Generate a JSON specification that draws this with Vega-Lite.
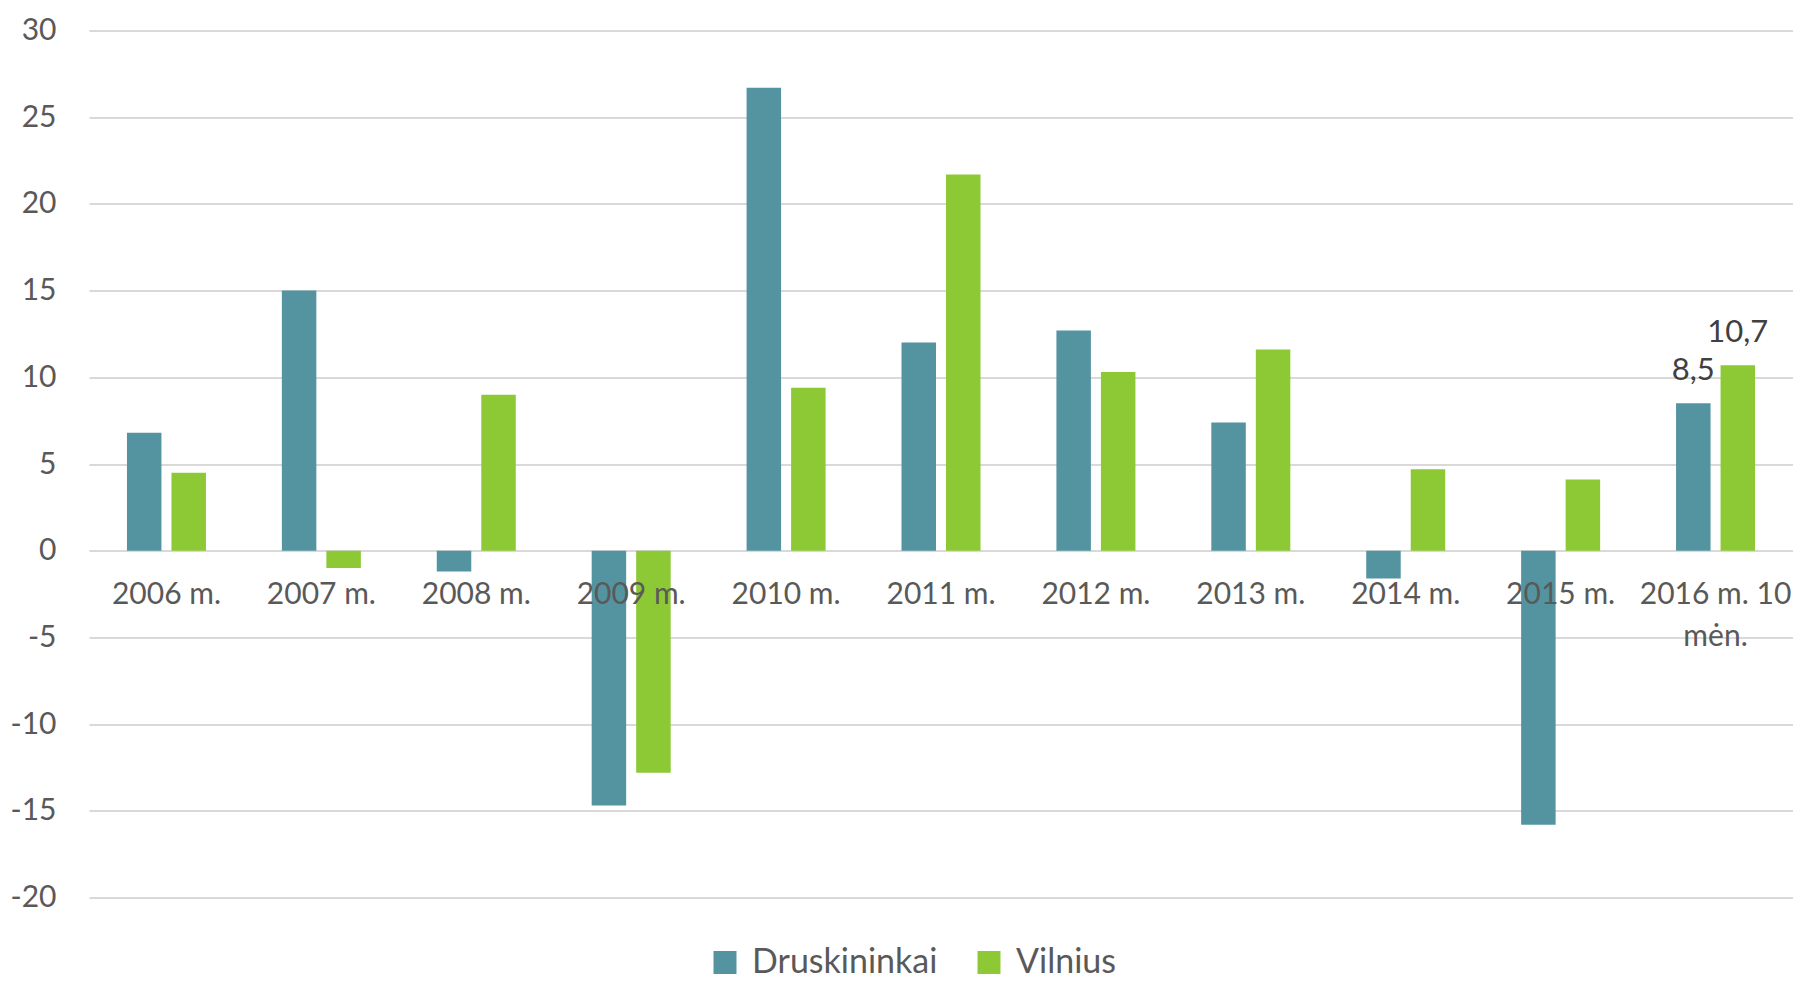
{
  "$schema": "https://vega.github.io/schema/vega-lite/v6.json",
  "width": 1704,
  "height": 867,
  "autosize": {"type": "none"},
  "padding": {"left": 89, "top": 30.5, "right": 0, "bottom": 83.5},
  "background": "white",
  "config": {
    "view": {"stroke": null},
    "font": "Lato",
    "locale": {
      "number": {"decimal": ",", "thousands": " ", "grouping": [3], "currency": ["", " €"], "minus": "-"}
    }
  },
  "data": {
    "values": [
      {"year": "2006 m.", "city": "Druskininkai", "value": 6.8},
      {"year": "2006 m.", "city": "Vilnius", "value": 4.5},
      {"year": "2007 m.", "city": "Druskininkai", "value": 15.0},
      {"year": "2007 m.", "city": "Vilnius", "value": -1.0},
      {"year": "2008 m.", "city": "Druskininkai", "value": -1.2},
      {"year": "2008 m.", "city": "Vilnius", "value": 9.0},
      {"year": "2009 m.", "city": "Druskininkai", "value": -14.7},
      {"year": "2009 m.", "city": "Vilnius", "value": -12.8},
      {"year": "2010 m.", "city": "Druskininkai", "value": 26.7},
      {"year": "2010 m.", "city": "Vilnius", "value": 9.4},
      {"year": "2011 m.", "city": "Druskininkai", "value": 12.0},
      {"year": "2011 m.", "city": "Vilnius", "value": 21.7},
      {"year": "2012 m.", "city": "Druskininkai", "value": 12.7},
      {"year": "2012 m.", "city": "Vilnius", "value": 10.3},
      {"year": "2013 m.", "city": "Druskininkai", "value": 7.4},
      {"year": "2013 m.", "city": "Vilnius", "value": 11.6},
      {"year": "2014 m.", "city": "Druskininkai", "value": -1.6},
      {"year": "2014 m.", "city": "Vilnius", "value": 4.7},
      {"year": "2015 m.", "city": "Druskininkai", "value": -15.8},
      {"year": "2015 m.", "city": "Vilnius", "value": 4.1},
      {"year": "2016 m. 10 mėn.", "city": "Druskininkai", "value": 8.5},
      {"year": "2016 m. 10 mėn.", "city": "Vilnius", "value": 10.7}
    ]
  },
  "encoding": {
    "x": {
      "field": "year",
      "type": "nominal",
      "sort": null,
      "scale": {"paddingInner": 0.49, "paddingOuter": 0.245},
      "axis": {
        "title": null,
        "orient": "bottom",
        "offset": -346.8,
        "domain": false,
        "ticks": false,
        "grid": false,
        "labelAngle": 0,
        "labelFont": "Lato",
        "labelFontSize": 30,
        "labelColor": "#595959",
        "labelPadding": 29,
        "labelBaseline": "top",
        "labelLineHeight": 42,
        "labelOverlap": false,
        "labelLimit": 0,
        "labelExpr": "datum.value == '2016 m. 10 mėn.' ? ['2016 m. 10', 'mėn.'] : datum.value",
        "zindex": 1
      }
    },
    "xOffset": {
      "field": "city",
      "type": "nominal",
      "sort": ["Druskininkai", "Vilnius"],
      "scale": {"paddingInner": 0.225, "paddingOuter": 0}
    },
    "y": {
      "field": "value",
      "type": "quantitative",
      "scale": {"domain": [-20, 30], "nice": false, "zero": false},
      "axis": {
        "title": null,
        "values": [-20, -15, -10, -5, 0, 5, 10, 15, 20, 25, 30],
        "format": "d",
        "domain": false,
        "ticks": false,
        "grid": true,
        "gridColor": "#d9d9d9",
        "gridWidth": 2,
        "labelFont": "Lato",
        "labelFontSize": 30,
        "labelColor": "#595959",
        "labelPadding": 33,
        "zindex": 0
      }
    }
  },
  "layer": [
    {
      "mark": {"type": "bar"},
      "encoding": {
        "color": {
          "field": "city",
          "type": "nominal",
          "scale": {"domain": ["Druskininkai", "Vilnius"], "range": ["#5494A0", "#8CC935"]},
          "legend": {
            "title": null,
            "orient": "none",
            "legendX": 619,
            "legendY": 915,
            "direction": "horizontal",
            "symbolType": "square",
            "symbolSize": 529,
            "symbolStrokeWidth": 0,
            "labelFont": "Lato",
            "labelFontSize": 34,
            "labelLimit": 0,
            "labelColor": "#595959",
            "labelOffset": 10,
            "columnPadding": 34,
            "padding": 0
          }
        }
      }
    },
    {
      "transform": [{"filter": "datum.year == '2016 m. 10 mėn.'"}],
      "mark": {"type": "text", "fontSize": 31, "color": "#404040", "baseline": "alphabetic", "dy": -23, "font": "Lato"},
      "encoding": {
        "text": {"field": "value", "type": "quantitative", "format": ".1f"}
      }
    }
  ]
}
